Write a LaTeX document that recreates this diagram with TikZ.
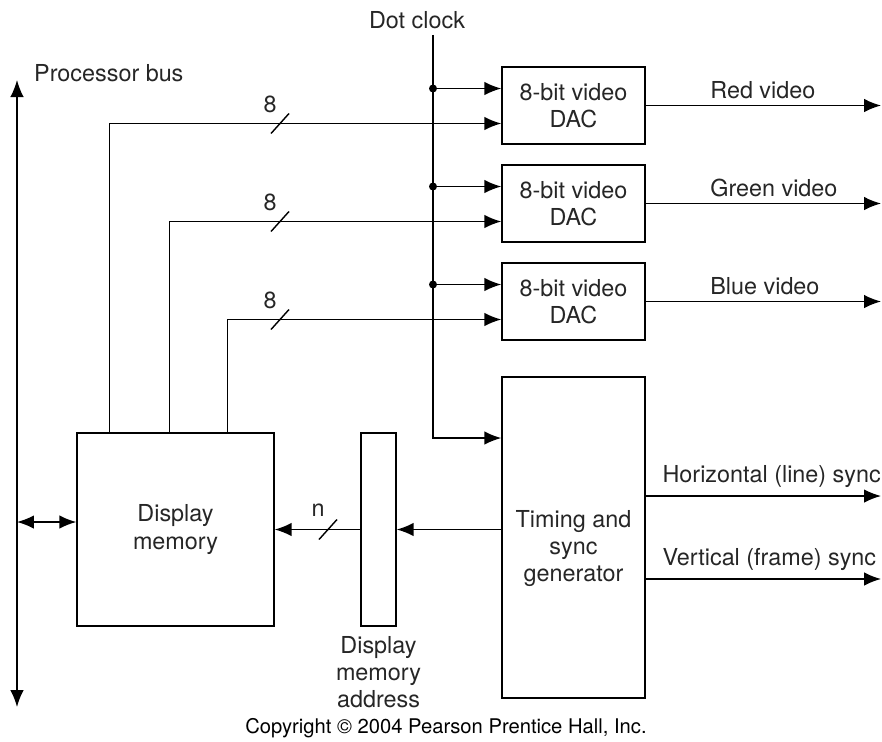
\documentclass[tikz,border=0pt]{standalone}
\usepackage{fontspec}
\setmainfont{TeX Gyre Heros}
\usetikzlibrary{arrows.meta,positioning}
\tikzset{
  arr/.style={-{Latex[length=3.4mm,width=2.7mm]},line width=0.8pt},
  dbl/.style={{Latex[length=3.4mm,width=2.7mm]}-{Latex[length=3.4mm,width=2.7mm]},line width=0.8pt},
  lab/.style={font=\fontsize{13.3}{15.5}\selectfont,align=center,text=black!85},
  blk/.style={lab,draw,line width=0.8pt,inner sep=0pt},
  sig/.style={lab,above right,text depth=0pt},
  dot/.style={circle,fill,inner sep=0pt,minimum size=1.6mm}
}
% slash with bus width label
\newcommand{\busmark}[2]{%
  \draw[line width=0.8pt] ([shift={(-9,10)}]#1) -- ([shift={(9,-10)}]#1);
  \node[lab] at ([shift={(-10,-19)}]#1) {#2};}

\begin{document}
\begin{tikzpicture}[x=0.02cm,y=-0.02cm]
  \useasboundingbox (0,0) rectangle (882,741);
  % blocks
  \node[blk,minimum width=2.86cm,minimum height=1.54cm] (dacR) at (573.5,105.5) {8-bit video\\DAC};
  \node[blk,minimum width=2.86cm,minimum height=1.54cm] (dacG) at (573.5,203.5) {8-bit video\\DAC};
  \node[blk,minimum width=2.86cm,minimum height=1.54cm] (dacB) at (573.5,301.5) {8-bit video\\DAC};
  \node[blk,minimum width=2.86cm,minimum height=6.42cm] (tim) at (573.5,537.5) {};
  \node[lab] at ([yshift=-0.22cm]tim.center) {Timing and\\sync\\generator};
  \node[blk,minimum width=3.94cm,minimum height=3.86cm] (mem) at (175.5,529.5) {Display\\memory};
  \node[blk,minimum width=0.7cm,minimum height=3.86cm] (addr) at (378.5,529.5) {};
  \node[lab,below=2pt of addr] (addrlab) {Display\\memory\\address};

  % processor bus
  \coordinate (bustop) at (17,80);
  \coordinate (busbot) at (17,707);
  \draw[dbl] (busbot) -- (bustop);
  \node[lab,anchor=west] (buslab) at ([shift={(11,-7)}]bustop) {Processor bus};
  \coordinate (dm) at ([yshift=0.15cm]mem.west);
  \draw[dbl] (bustop |- dm) -- (dm);

  % dot clock
  \node[lab] (clk) at (417,20) {Dot clock};
  \coordinate (clktop) at (clk.south -| 433,0);
  \coordinate (ckT) at ([yshift=1.99cm]tim.west);
  \draw[arr] (clktop) |- (ckT);
  \coordinate (ckR) at ([yshift=0.34cm]dacR.west);
  \coordinate (ckG) at ([yshift=0.34cm]dacG.west);
  \coordinate (ckB) at ([yshift=0.34cm]dacB.west);
  \draw[arr] (ckR -| clktop) node[dot]{} -- (ckR);
  \draw[arr] (ckG -| clktop) node[dot]{} -- (ckG);
  \draw[arr] (ckB -| clktop) node[dot]{} -- (ckB);

  % pixel data
  \coordinate (inR) at ([yshift=-0.36cm]dacR.west);
  \coordinate (inG) at ([yshift=-0.36cm]dacG.west);
  \coordinate (inB) at ([yshift=-0.36cm]dacB.west);
  \draw[arr] ([xshift=0.66cm]mem.north west) |- (inR);
  \draw[arr] ([xshift=1.86cm]mem.north west) |- (inG);
  \draw[arr] ([xshift=3.02cm]mem.north west) |- (inB);
  \coordinate (sR) at (inR -| 280,0);
  \coordinate (sG) at (inG -| 280,0);
  \coordinate (sB) at (inB -| 280,0);
  \busmark{sR}{8}
  \busmark{sG}{8}
  \busmark{sB}{8}

  % outputs
  \coordinate (rim) at (881,0);
  \draw[arr] (dacR.east) -- (dacR.east -| rim) node[sig,pos=0.247]{Red video};
  \draw[arr] (dacG.east) -- (dacG.east -| rim) node[sig,pos=0.247]{Green video};
  \draw[arr] (dacB.east) -- (dacB.east -| rim) node[sig,pos=0.247]{Blue video};
  \coordinate (hs) at ([yshift=0.83cm]tim.east);
  \coordinate (vs) at ([yshift=-0.83cm]tim.east);
  \draw[arr] (hs) -- (hs -| rim) node[sig,pos=0.044,yshift=0.13cm]{Horizontal (line) sync};
  \draw[arr] (vs) -- (vs -| rim) node[sig,pos=0.044,yshift=0.13cm]{Vertical (frame) sync};

  % address path
  \draw[arr] (tim.west |- addr.east) -- (addr.east);
  \draw[arr] (addr.west) -- (mem.east);
  \coordinate (sn) at (addr.west -| 328,0);
  \busmark{sn}{n}

  \node[lab,font=\fontsize{11.5}{14}\selectfont,text=black] (copy) at (446,728) {Copyright © 2004 Pearson Prentice Hall, Inc.};
\end{tikzpicture}
\end{document}
